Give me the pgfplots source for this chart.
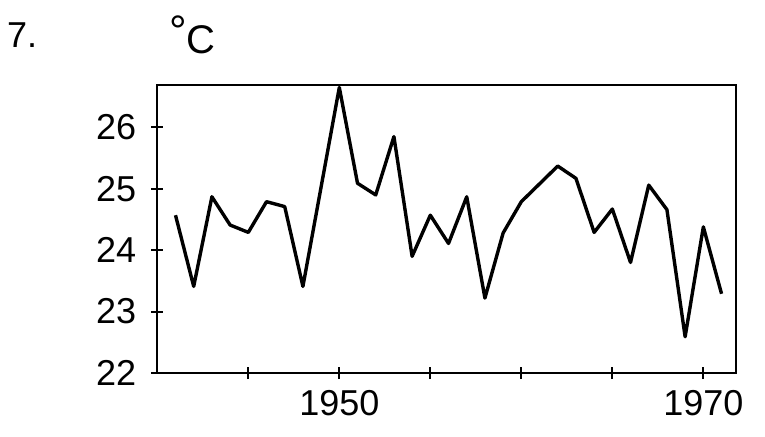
\documentclass[border=0pt]{standalone}
\usepackage{fontspec}
\setmainfont{Liberation Sans}
\usepackage{pgfplots}
\pgfplotsset{compat=1.18}

\pgfplotstableread{
year temp
1941 24.57
1942 23.41
1943 24.87
1944 24.41
1945 24.29
1946 24.79
1947 24.71
1948 23.41
1949 25.03
1950 26.65
1951 25.09
1952 24.90
1953 25.85
1954 23.90
1955 24.57
1956 24.11
1957 24.87
1958 23.22
1959 24.28
1960 24.79
1961 25.08
1962 25.37
1963 25.17
1964 24.29
1965 24.67
1966 23.80
1967 25.06
1968 24.66
1969 22.59
1970 24.38
1971 23.29
}\temps

\begin{document}
\begin{tikzpicture}
% fixed frame: 1 px of the reference = 0.5pt
\path[use as bounding box] (-78.65pt,186.5pt) rectangle (303.85pt,-31.5pt);
\begin{axis}[
    at={(0,0)}, anchor=south west,
    scale only axis,
    width=289.4pt, height=144pt,
    xmin=1940, xmax=1971.8,
    ymin=22, ymax=26.69,
    xtick={1945,1950,1955,1960,1965,1970},
    xticklabels={,1950,,,,1970},
    ytick={22,23,24,25,26},
    tick align=center,
    major tick length=6pt,
    xtick pos=bottom, ytick pos=left,
    axis line style={line width=1.1pt},
    every tick/.style={line width=1.1pt,black},
    tick label style={font=\fontsize{18}{20}\selectfont},
    /pgf/number format/assume math mode=true,
    yticklabel style={xshift=-4pt},
    xticklabel style={yshift=-2pt},
]
\addplot[black, line width=1.7pt, line join=round] table[x=year,y=temp] {\temps};
\end{axis}
\node[font=\fontsize{18}{20}\selectfont] at (-67.6pt,169pt) {7.};
\node[font=\fontsize{22}{24}\selectfont, inner sep=0pt] at (10.5pt,171pt) {°};
\node[font=\fontsize{20}{22}\selectfont, inner sep=0pt] at (22pt,166.5pt) {C};
\end{tikzpicture}
\end{document}
